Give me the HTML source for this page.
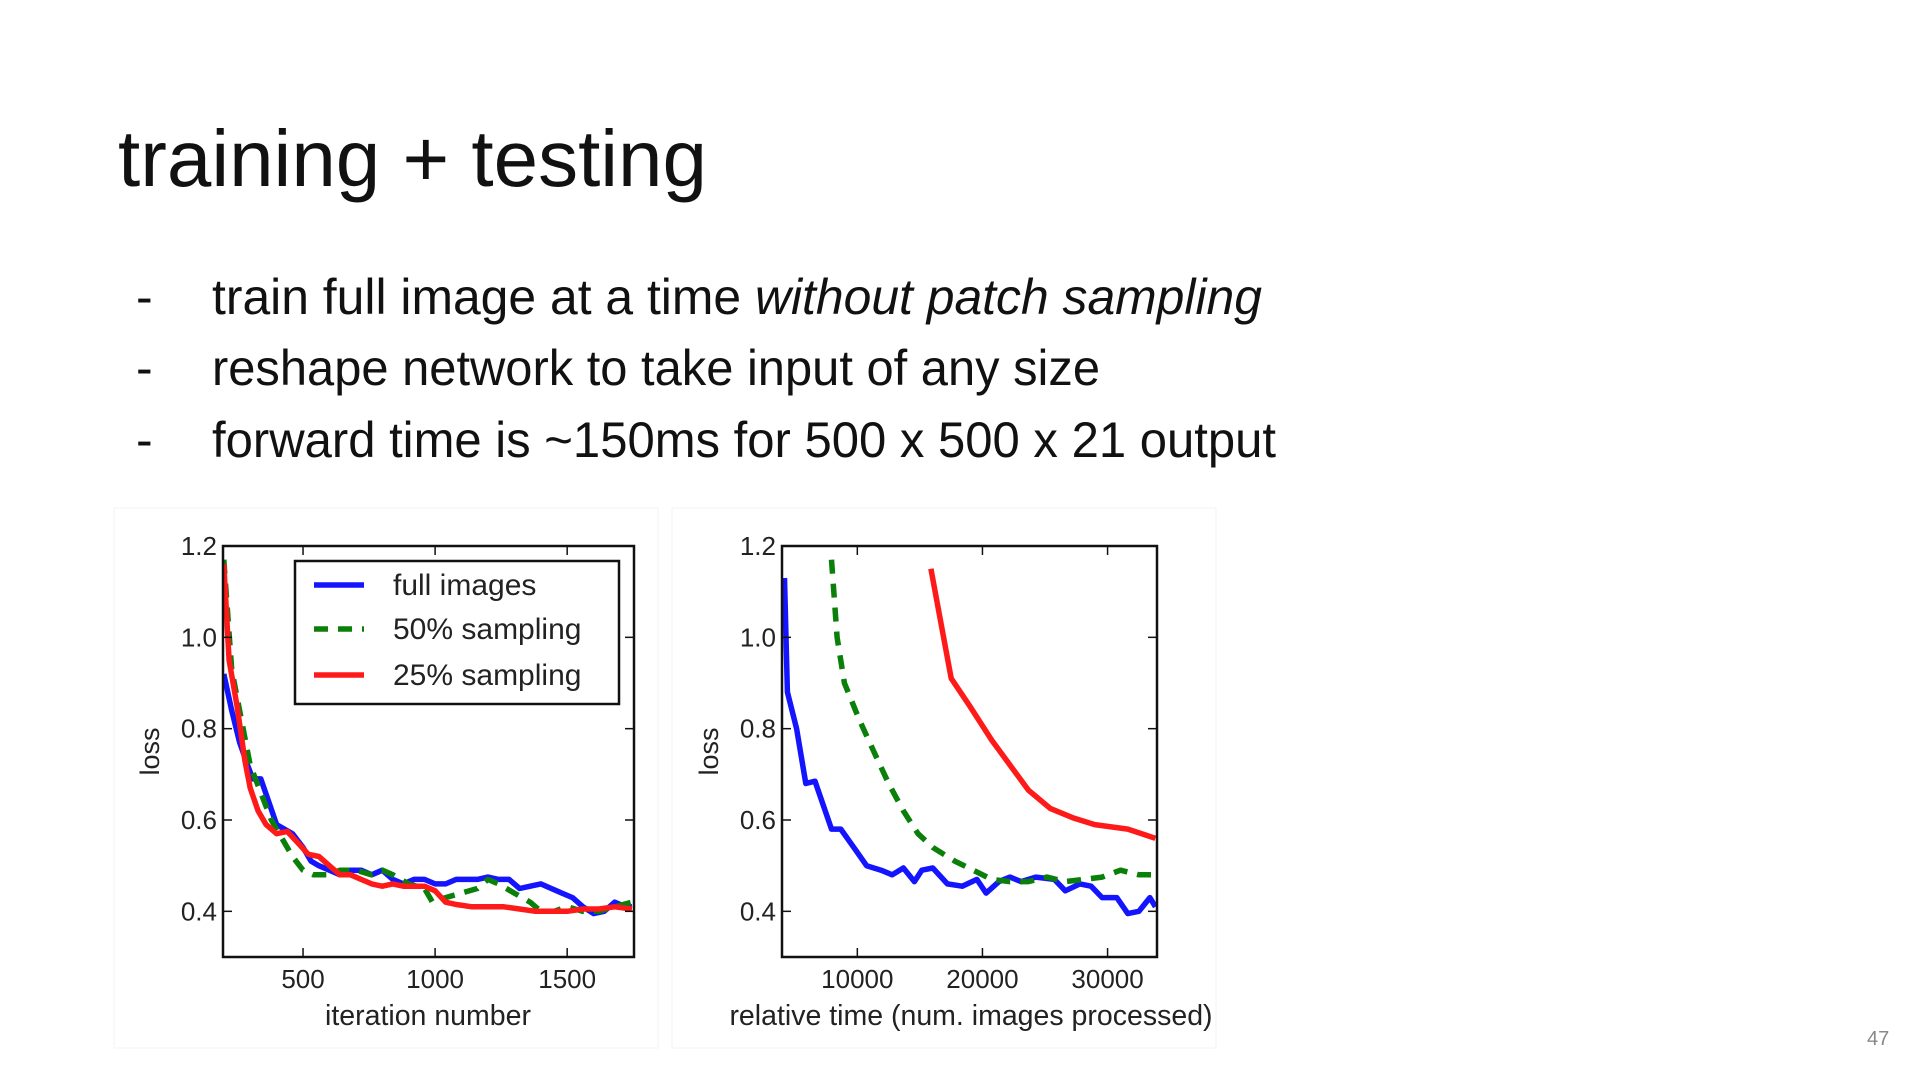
<!DOCTYPE html>
<html><head><meta charset="utf-8"><style>
html,body{margin:0;padding:0;background:#fff;}
svg{display:block;font-family:"Liberation Sans",sans-serif;}
</style></head><body>
<svg id="page" width="1920" height="1080" viewBox="0 0 1920 1080">
<text x="118" y="186" font-size="80" fill="#111" textLength="589" lengthAdjust="spacingAndGlyphs">training + testing</text>
<g font-size="50" fill="#111">
<text x="136" y="314">-</text>
<text x="212" y="314" textLength="1050" lengthAdjust="spacingAndGlyphs">train full image at a time <tspan font-style="italic">without patch sampling</tspan></text>
<text x="136" y="385">-</text>
<text x="212" y="385" textLength="888" lengthAdjust="spacingAndGlyphs">reshape network to take input of any size</text>
<text x="136" y="457">-</text>
<text x="212" y="457" textLength="1064" lengthAdjust="spacingAndGlyphs">forward time is ~150ms for 500 x 500 x 21 output</text>
</g>
<text x="1867" y="1045" font-size="20" fill="#888">47</text>
<rect x="114" y="508" width="544" height="540" fill="none" stroke="#f3f3f3" stroke-width="1"/>
<rect x="672" y="508" width="544" height="540" fill="none" stroke="#f3f3f3" stroke-width="1"/>
<g id="chart1"></g>
<g id="chart2"></g>
</svg>
<script>
const NS="http://www.w3.org/2000/svg";
// Left chart data
const iterBlueX=[200,230,260,290,310,340,370,400,430,460,500,530,560,600,640,680,720,760,800,840,880,920,960,1000,1040,1080,1120,1160,1200,1240,1280,1320,1360,1400,1440,1480,1520,1560,1600,1640,1680,1720,1745];
const iterBlueY=[0.92,0.84,0.77,0.72,0.69,0.69,0.64,0.59,0.58,0.57,0.54,0.51,0.50,0.49,0.48,0.49,0.49,0.48,0.49,0.47,0.46,0.47,0.47,0.46,0.46,0.47,0.47,0.47,0.475,0.47,0.47,0.45,0.455,0.46,0.45,0.44,0.43,0.41,0.395,0.40,0.42,0.41,0.41];
const iterGreenX=[200,230,260,300,340,380,420,460,500,540,600,640,700,760,800,840,900,960,990,1040,1100,1160,1200,1240,1300,1360,1400,1450,1500,1560,1620,1680,1745];
const iterGreenY=[1.17,0.93,0.84,0.72,0.66,0.60,0.56,0.52,0.49,0.48,0.48,0.49,0.49,0.48,0.49,0.48,0.46,0.45,0.42,0.43,0.44,0.45,0.47,0.46,0.44,0.42,0.40,0.40,0.41,0.40,0.40,0.41,0.42];
const iterRedX=[200,220,250,280,300,330,360,400,440,480,520,560,600,640,680,720,760,800,840,880,920,960,1000,1040,1080,1140,1200,1260,1320,1380,1440,1500,1560,1620,1680,1745];
const iterRedY=[1.16,0.95,0.85,0.73,0.67,0.62,0.59,0.57,0.575,0.55,0.525,0.52,0.50,0.48,0.48,0.47,0.46,0.455,0.46,0.455,0.455,0.455,0.445,0.42,0.415,0.41,0.41,0.41,0.405,0.40,0.40,0.40,0.405,0.405,0.41,0.405];
const iterTicks=[500,1000,1500];
// Right chart data
const timeBlueX=[4180,4410,5150,5880,6620,7940,8680,9850,10740,11900,12790,13680,14560,15150,16030,17200,18380,19560,20290,21320,22200,23090,24260,25740,26620,27790,28680,29560,30740,31620,32500,33380,33820];
const timeBlueY=[1.13,0.88,0.80,0.68,0.685,0.58,0.58,0.535,0.50,0.49,0.48,0.495,0.465,0.49,0.495,0.46,0.455,0.47,0.44,0.465,0.475,0.465,0.475,0.47,0.445,0.46,0.455,0.43,0.43,0.395,0.40,0.43,0.41];
const timeGreenX=[7940,8380,8970,10150,11320,12500,13680,14850,16030,17790,19260,20740,22210,23680,25150,26620,28090,29560,31030,32500,33820];
const timeGreenY=[1.17,1.0,0.90,0.82,0.75,0.68,0.62,0.57,0.54,0.51,0.49,0.47,0.465,0.465,0.475,0.465,0.47,0.475,0.49,0.48,0.48];
const timeRedX=[15880,17500,18970,20740,22210,23680,25440,27210,28970,31620,33820];
const timeRedY=[1.15,0.91,0.85,0.775,0.72,0.665,0.625,0.605,0.59,0.58,0.56];
const timeTicks=[10000,20000,30000];
const yTicks=[0.4,0.6,0.8,1.0,1.2];
const legendLabels=["full images","50% sampling","25% sampling"];

function mk(tag,attrs,parent){const e=document.createElementNS(NS,tag);for(const k in attrs)e.setAttribute(k,attrs[k]);parent.appendChild(e);return e;}

function drawChart(g,box,xmin,xmax,xTicks,xlabel,series,legend){
  const sx=v=>box.x+(v-xmin)/(xmax-xmin)*box.w;
  const sy=v=>box.y+box.h-(v-0.3)/(1.2-0.3)*box.h;
  const clip=mk('clipPath',{id:g.id+'-clip'},g);
  mk('rect',{x:box.x,y:box.y,width:box.w,height:box.h},clip);
  const lines=mk('g',{'clip-path':'url(#'+g.id+'-clip)'},g);
  series.forEach(s=>{
    const p=mk('polyline',{points:s.x.map((v,i)=>sx(v).toFixed(1)+','+sy(s.y[i]).toFixed(1)).join(' '),fill:'none',stroke:s.color,'stroke-width':5.5,'stroke-linejoin':'round','stroke-dasharray':s.dash||'none'},lines);
    
    
  });
  const frame=mk('rect',{x:box.x,y:box.y,width:box.w,height:box.h,fill:'none',stroke:'#111','stroke-width':2.5},g);
  
  
  yTicks.forEach(t=>{
    const y=sy(t);
    mk('line',{x1:box.x,x2:box.x+9,y1:y,y2:y,stroke:'#111','stroke-width':1.5},g);
    mk('line',{x1:box.x+box.w-9,x2:box.x+box.w,y1:y,y2:y,stroke:'#111','stroke-width':1.5},g);
    const tx=mk('text',{x:box.x-6,y:y+9,'font-size':26,'text-anchor':'end',fill:'#222'},g);
    tx.textContent=t.toFixed(1);
    
    
  });
  xTicks.forEach(t=>{
    const x=sx(t);
    mk('line',{x1:x,x2:x,y1:box.y,y2:box.y+9,stroke:'#111','stroke-width':1.5},g);
    mk('line',{x1:x,x2:x,y1:box.y+box.h-9,y2:box.y+box.h,stroke:'#111','stroke-width':1.5},g);
    const tx=mk('text',{x:x,y:box.y+box.h+31,'font-size':26,'text-anchor':'middle',fill:'#222'},g);
    tx.textContent=String(t);
    
    
  });
  const yl=mk('text',{x:0,y:0,'font-size':27,'text-anchor':'middle',fill:'#222',transform:'translate('+(box.x-64)+','+(box.y+box.h/2)+') rotate(-90)'},g);
  yl.textContent='loss';
  
  
  const xl=mk('text',{x:xlabel.cx,y:box.y+box.h+68,'font-size':28.5,'text-anchor':'middle',fill:'#222'},g);
  xl.textContent=xlabel.text;
  
  
  if(legend){
    const lg=mk('g',{},g);
    
    
    mk('rect',{x:295,y:561,width:324,height:143,fill:'#fff',stroke:'#111','stroke-width':2.5},lg);
    const ys=[585,629,675];
    series.forEach((s,i)=>{
      mk('line',{x1:314,x2:364,y1:ys[i],y2:ys[i],stroke:s.color,'stroke-width':5.5,'stroke-dasharray':s.dash||'none'},lg);
      const t=mk('text',{x:393,y:ys[i]+10,'font-size':30,fill:'#222'},lg);
      t.textContent=legendLabels[i];
      
      
    });
  }
}
const BLUE='#1414ff',GREEN='#0a7f0a',RED='#ff1a1a';
drawChart(document.getElementById('chart1'),{x:223,y:546,w:411,h:411},197,1753,iterTicks,{cx:428,text:'iteration number'},
 [{name:'full-images-line',x:iterBlueX,y:iterBlueY,color:BLUE},
  {name:'50pct-sampling-line',x:iterGreenX,y:iterGreenY,color:GREEN,dash:'14 10'},
  {name:'25pct-sampling-line',x:iterRedX,y:iterRedY,color:RED}],true);
drawChart(document.getElementById('chart2'),{x:782,y:546,w:375,h:411},3980,33950,timeTicks,{cx:971,text:'relative time (num. images processed)'},
 [{name:'full-images-time-line',x:timeBlueX,y:timeBlueY,color:BLUE},
  {name:'50pct-sampling-time-line',x:timeGreenX,y:timeGreenY,color:GREEN,dash:'14 10'},
  {name:'25pct-sampling-time-line',x:timeRedX,y:timeRedY,color:RED}],false);
</script>
</body></html>
